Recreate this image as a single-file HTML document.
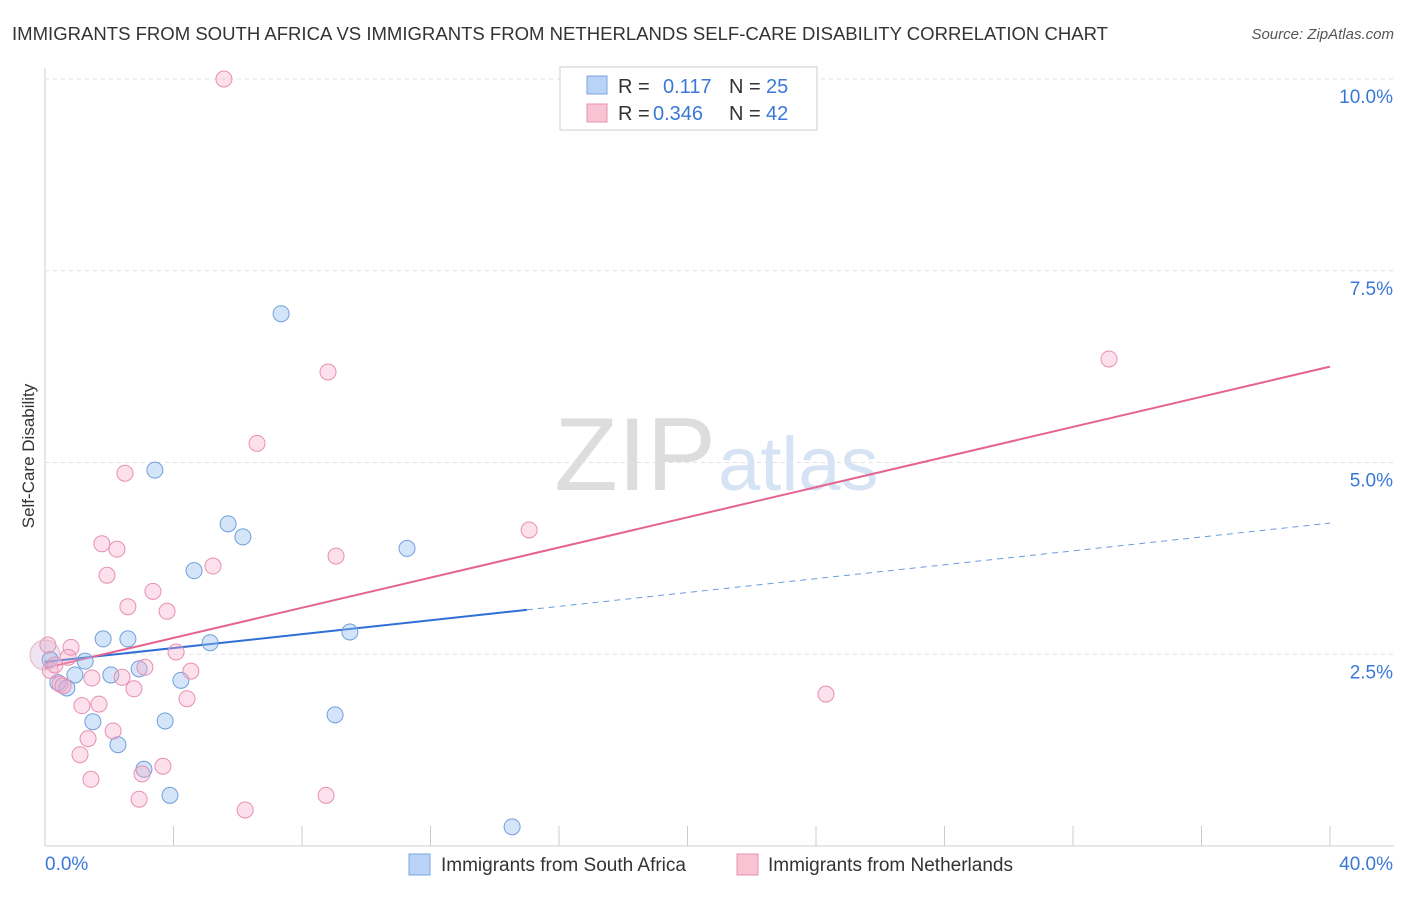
<!DOCTYPE html>
<html><head><meta charset="utf-8"><style>
body{margin:0;background:#fff;font-family:"Liberation Sans",sans-serif;}
svg text{font-family:"Liberation Sans",sans-serif;}
</style></head><body>
<svg id="chart" width="1406" height="892">
<text x="12" y="40" font-size="18" fill="#333" textLength="1096" lengthAdjust="spacingAndGlyphs">IMMIGRANTS FROM SOUTH AFRICA VS IMMIGRANTS FROM NETHERLANDS SELF-CARE DISABILITY CORRELATION CHART</text>
<text x="1394" y="39" font-size="15" fill="#555" font-style="italic" text-anchor="end">Source: ZipAtlas.com</text>
<text x="34" y="456" font-size="17" fill="#333" text-anchor="middle" transform="rotate(-90 34 456)">Self-Care Disability</text>
<text x="716" y="490" font-size="104" fill="#ddd" text-anchor="end" font-family="Liberation Serif">ZIP</text>
<text x="718" y="490" font-size="76" fill="#d5e3f5">atlas</text>
<g id="grid"></g><g id="lines"></g><g id="pts"></g>
<g>
<rect x="560" y="67" width="257" height="63" fill="#fff" stroke="#ccc"/>
<rect x="587" y="76" width="20" height="18" fill="#b8d3f5" stroke="#7aa6e0"/>
<rect x="587" y="104" width="20" height="18" fill="#f8c4d4" stroke="#e890ae"/>
<text y="93" font-size="20" fill="#333"><tspan x="618">R = </tspan><tspan x="663" fill="#3a78d8">0.117</tspan><tspan x="729">N = </tspan><tspan x="766" fill="#3a78d8">25</tspan></text>
<text y="120" font-size="20" fill="#333"><tspan x="618">R = </tspan><tspan x="653" fill="#3a78d8">0.346</tspan><tspan x="729">N = </tspan><tspan x="766" fill="#3a78d8">42</tspan></text>
</g>
<g>
<rect x="409" y="854" width="21" height="21" fill="#b8d3f5" stroke="#7aa6e0"/>
<text x="441" y="871" font-size="19" fill="#333">Immigrants from South Africa</text>
<rect x="737" y="854" width="21" height="21" fill="#f8c4d4" stroke="#e890ae"/>
<text x="768" y="871" font-size="19" fill="#333">Immigrants from Netherlands</text>
</g>
<text x="45" y="870" font-size="19" fill="#3a78d8">0.0%</text>
<text x="1393" y="870" font-size="19" fill="#3a78d8" text-anchor="end">40.0%</text>
</svg>
<script>
const yTicks=[2.5,5.0,7.5,10.0];
const xTicks=[0,4,8,12,16,20,24,28,32,36,40];
const saX=[7.35,3.42,5.70,6.16,11.27,4.64,9.49,1.81,2.58,5.14,1.25,2.05,2.93,4.23,0.93,0.40,0.68,1.49,3.74,9.03,2.27,3.08,3.89,14.54,0.16];
const saY=[6.94,4.90,4.20,4.03,3.88,3.59,2.79,2.70,2.70,2.65,2.41,2.23,2.31,2.16,2.23,2.13,2.06,1.62,1.63,1.71,1.32,1.00,0.66,0.25,2.43];
const nlX=[5.57,33.12,8.81,6.60,2.49,15.07,1.77,2.24,9.06,5.23,1.93,3.36,2.58,3.80,0.81,0.72,4.08,3.11,4.54,2.40,1.46,0.47,2.77,4.42,1.68,1.15,24.31,2.12,1.34,1.09,3.67,3.02,1.43,2.93,8.75,6.23,0.16,0.31,0.56,0.09,0];
const nlY=[10.0,6.35,6.18,5.25,4.86,4.12,3.94,3.87,3.78,3.65,3.53,3.32,3.12,3.06,2.59,2.46,2.53,2.33,2.28,2.20,2.19,2.11,2.05,1.92,1.85,1.83,1.98,1.50,1.40,1.19,1.04,0.94,0.87,0.61,0.66,0.47,2.29,2.36,2.09,2.62,2.49];
const saTrend=[2.40,4.21];const nlTrend=[2.32,6.25];const saSolidEnd=15.0;
const X=v=>45+v*32.125, Y=v=>846-v*76.7;
const NS='http://www.w3.org/2000/svg';
function mk(t,a,p){const e=document.createElementNS(NS,t);for(const k in a)e.setAttribute(k,a[k]);document.getElementById(p).appendChild(e);return e;}
mk('line',{x1:45,y1:68,x2:45,y2:846,stroke:'#ccc'},'grid');
mk('line',{x1:45,y1:846,x2:1394,y2:846,stroke:'#ccc'},'grid');
yTicks.forEach(t=>{
 const l=mk('line',{x1:45,y1:Y(t),x2:1394,y2:Y(t),stroke:'#e2e2e2','stroke-dasharray':'4 4'},'grid');
 
 
 const tx=mk('text',{x:1393,y:Y(t)+24,'font-size':19,fill:'#3a78d8','text-anchor':'end'},'grid');
 tx.textContent=t.toFixed(1)+'%';
 
 
});
xTicks.forEach(t=>{
 const l=mk('line',{x1:X(t),y1:826,x2:X(t),y2:846,stroke:'#ccc'},'grid');
 
 
});
let l=mk('line',{x1:X(0),y1:Y(saTrend[0]),x2:X(saSolidEnd),y2:Y(saTrend[0]+(saTrend[1]-saTrend[0])*saSolidEnd/40),stroke:'#2f6fd6','stroke-width':2},'lines');


l=mk('line',{x1:X(saSolidEnd),y1:Y(saTrend[0]+(saTrend[1]-saTrend[0])*saSolidEnd/40),x2:X(40),y2:Y(saTrend[1]),stroke:'#6a9be0','stroke-width':1,'stroke-dasharray':'6 5'},'lines');


saX.forEach((v,i)=>{
 const c=mk('circle',{cx:X(v),cy:Y(saY[i]),r:8,fill:'rgba(150,190,240,0.4)',stroke:'#6f9fdc','stroke-width':1},'pts');
 
 
});
nlX.forEach((v,i)=>{
 const big=i==nlX.length-1;
 const c=mk('circle',{cx:X(v),cy:Y(nlY[i]),r:big?15:8,fill:big?'rgba(200,170,210,0.3)':'rgba(245,170,200,0.35)',stroke:big?'#e6b3c8':'#e88fb0','stroke-width':1},'pts');
 
 
});
l=mk('line',{x1:X(0),y1:Y(nlTrend[0]),x2:X(40),y2:Y(nlTrend[1]),stroke:'#e4648f','stroke-width':2},'lines');


</script>
</body></html>
